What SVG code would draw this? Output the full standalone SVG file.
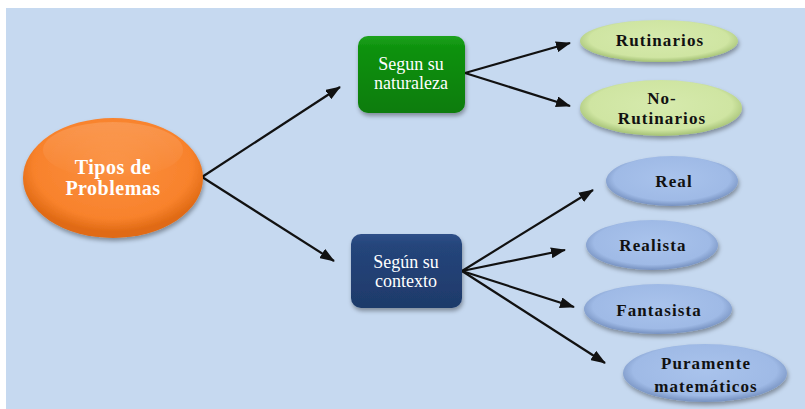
<svg xmlns="http://www.w3.org/2000/svg" width="805" height="409" viewBox="0 0 805 409">
<style>
.edge{stroke:#111;stroke-width:2.2;fill:none;marker-end:url(#ah)}
text{font-family:'Liberation Serif','Times New Roman',serif;text-anchor:middle}
.w{fill:#fff}
.b{fill:#111;font-weight:bold;font-size:17px;letter-spacing:1.1px}
</style>
<defs>
<marker id="ah" viewBox="0 0 15 11" refX="14" refY="5.5" markerWidth="15" markerHeight="11" markerUnits="userSpaceOnUse" orient="auto"><path d="M0,0 L15,5.5 L0,11 z" fill="#111"/></marker>
<filter id="sh" x="-20%" y="-20%" width="140%" height="150%"><feDropShadow dx="1" dy="3" stdDeviation="2" flood-color="#000" flood-opacity="0.35"/></filter>
<radialGradient id="gOr" cx="50%" cy="40%" r="55%"><stop offset="0" stop-color="#fb8f3e"/><stop offset="0.8" stop-color="#f8822c"/><stop offset="1" stop-color="#e06a14"/></radialGradient>
<linearGradient id="gOrHi" x1="0" y1="0" x2="0" y2="1"><stop offset="0" stop-color="#fff" stop-opacity="0.15"/><stop offset="1" stop-color="#fff" stop-opacity="0"/></linearGradient>
<linearGradient id="gGr" x1="0" y1="0" x2="0" y2="1"><stop offset="0" stop-color="#1fa21f"/><stop offset="0.15" stop-color="#0d920d"/><stop offset="1" stop-color="#077c07"/></linearGradient>
<linearGradient id="gNv" x1="0" y1="0" x2="0" y2="1"><stop offset="0" stop-color="#2f5089"/><stop offset="0.15" stop-color="#25457b"/><stop offset="1" stop-color="#1e3a6a"/></linearGradient>
<radialGradient id="gLg" cx="50%" cy="45%" r="55%"><stop offset="0" stop-color="#d6eaad"/><stop offset="0.8" stop-color="#cfe5a2"/><stop offset="1" stop-color="#a3c074"/></radialGradient>
<radialGradient id="gLb" cx="50%" cy="45%" r="55%"><stop offset="0" stop-color="#a9c3ec"/><stop offset="0.8" stop-color="#9fbae6"/><stop offset="1" stop-color="#7590bf"/></radialGradient>
</defs>
<rect x="6" y="8" width="799" height="401" fill="#c6d9f0"/>
<g id="connectors">
<path class="edge" d="M202,177 L340,87"/>
<path class="edge" d="M202,177 L334,261"/>
<path class="edge" d="M465,73 L570,43"/>
<path class="edge" d="M465,73 L570,106"/>
<path class="edge" d="M462,271 L593,190"/>
<path class="edge" d="M462,271 L565,250"/>
<path class="edge" d="M462,271 L574,307"/>
<path class="edge" d="M462,271 L605,363"/>
</g>
<g id="tipos">
<ellipse cx="113" cy="178" rx="90" ry="60" fill="url(#gOr)" filter="url(#sh)"/>
<ellipse cx="113" cy="150" rx="70" ry="28" fill="url(#gOrHi)"/>
<text class="w" font-family="Liberation Serif, serif" font-size="20" font-weight="bold" letter-spacing="0.5"><tspan x="113" y="174">Tipos de</tspan><tspan x="113" y="195">Problemas</tspan></text>
</g>
<g id="naturaleza">
<rect x="358" y="36" width="107" height="77" rx="10" fill="url(#gGr)" filter="url(#sh)"/>
<text class="w" font-family="Liberation Serif, serif" font-size="18"><tspan x="411" y="70">Segun su</tspan><tspan x="411" y="89">naturaleza</tspan></text>
</g>
<g id="contexto">
<rect x="351" y="234" width="111" height="74" rx="10" fill="url(#gNv)" filter="url(#sh)"/>
<text class="w" font-family="Liberation Serif, serif" font-size="18"><tspan x="406" y="268">Según su</tspan><tspan x="406" y="287">contexto</tspan></text>
</g>
<g id="rutinarios">
<ellipse cx="659" cy="41" rx="79" ry="21" fill="url(#gLg)" filter="url(#sh)"/>
<text class="b" font-family="Liberation Serif, serif" x="660" y="46">Rutinarios</text>
</g>
<g id="no-rutinarios">
<ellipse cx="661" cy="108" rx="81" ry="28" fill="url(#gLg)" filter="url(#sh)"/>
<text class="b" font-family="Liberation Serif, serif"><tspan x="662" y="104">No-</tspan><tspan x="662" y="124">Rutinarios</tspan></text>
</g>
<g id="real">
<ellipse cx="672" cy="181" rx="66" ry="25" fill="url(#gLb)" filter="url(#sh)"/>
<text class="b" font-family="Liberation Serif, serif" x="674" y="187">Real</text>
</g>
<g id="realista">
<ellipse cx="652" cy="245" rx="66" ry="25" fill="url(#gLb)" filter="url(#sh)"/>
<text class="b" font-family="Liberation Serif, serif" x="653" y="251">Realista</text>
</g>
<g id="fantasista">
<ellipse cx="658" cy="309" rx="74" ry="25" fill="url(#gLb)" filter="url(#sh)"/>
<text class="b" font-family="Liberation Serif, serif" x="659" y="316">Fantasista</text>
</g>
<g id="puramente">
<ellipse cx="705" cy="373" rx="82" ry="29" fill="url(#gLb)" filter="url(#sh)"/>
<text class="b" font-family="Liberation Serif, serif"><tspan x="706" y="369">Puramente</tspan><tspan x="706" y="392">matemáticos</tspan></text>
</g>
</svg>
